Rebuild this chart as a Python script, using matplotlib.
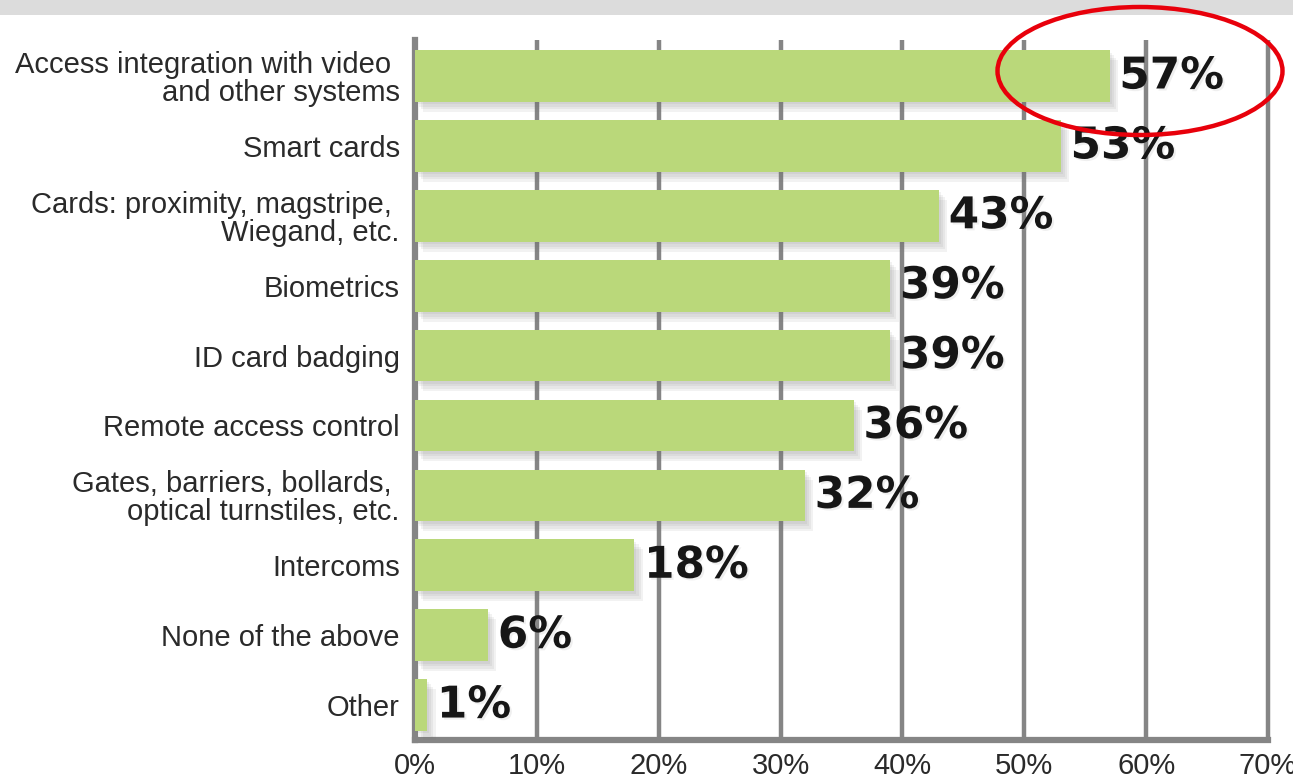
import matplotlib
matplotlib.use("Agg")
import matplotlib.pyplot as plt
from matplotlib.patches import Ellipse, Rectangle
import matplotlib.patheffects as pe

categories = [
    "Access integration with video \nand other systems",
    "Smart cards",
    "Cards: proximity, magstripe, \nWiegand, etc.",
    "Biometrics",
    "ID card badging",
    "Remote access control",
    "Gates, barriers, bollards, \noptical turnstiles, etc.",
    "Intercoms",
    "None of the above",
    "Other",
]
values = [57, 53, 43, 39, 39, 36, 32, 18, 6, 1]
value_labels = ["57%", "53%", "43%", "39%", "39%", "36%", "32%", "18%", "6%", "1%"]
x_ticks = [0, 10, 20, 30, 40, 50, 60, 70]
x_tick_labels = ["0%", "10%", "20%", "30%", "40%", "50%", "60%", "70%"]

plt.rcParams["font.family"] = ["Liberation Sans", "DejaVu Sans"]

W, H = 1293, 782
fig = plt.figure(figsize=(W / 100, H / 100), dpi=100)
fig.patch.set_facecolor("white")

# top gray band
fig.patches.append(Rectangle((0, 1 - 15 / H), 1, 15 / H, transform=fig.transFigure,
                             facecolor="#dcdcdc", edgecolor="none", zorder=0))

ax = fig.add_axes([415 / W, 1 - 740 / H, (1268 - 415) / W, (740 - 40) / H])
ax.set_xlim(0, 70)
ypos = list(range(len(categories)))
ax.set_ylim(len(categories) - 0.5, -0.515)

grid_color = "#858585"
ax.vlines(x_ticks[1:], len(categories) - 0.5, -0.515, colors=grid_color,
          linewidth=3.2, zorder=1, clip_on=False)

bars = ax.barh(ypos, values, height=0.74, color="#bad87a", zorder=3)
shadow = [pe.SimplePatchShadow(offset=(o, -o * 1.2), shadow_rgbFace="#707070", alpha=0.09)
          for o in (1.5, 3, 4.5, 6)]
for b in bars:
    b.set_path_effects(shadow + [pe.Normal()])

for y, v, lab in zip(ypos, values, value_labels):
    ax.annotate(lab, xy=(v, y), xytext=(7, 0), textcoords="offset points",
                ha="left", va="center", fontsize=31.5, fontweight="bold",
                family="DejaVu Sans", color="#161616", zorder=5,
                path_effects=[pe.withSimplePatchShadow(offset=(1.5, -1.5), shadow_rgbFace="#999999", alpha=0.15)])

ax.set_yticks(ypos)
ax.set_yticklabels(categories, fontsize=21, color="#2a2a2a", linespacing=1.0)
ax.set_xticks(x_ticks)
ax.set_xticklabels(x_tick_labels, fontsize=21, color="#2a2a2a")
ax.tick_params(axis="both", length=0)
ax.tick_params(axis="y", pad=11)
ax.tick_params(axis="x", pad=9)

for s in ["top", "right"]:
    ax.spines[s].set_visible(False)
for s in ["left", "bottom"]:
    ax.spines[s].set_color(grid_color)
    ax.spines[s].set_linewidth(4.5)
    ax.spines[s].set_zorder(2)
ax.set_facecolor("none")

# red highlight ellipse
ell = Ellipse((1140 / W, 1 - 71 / H), 285 / W, 128 / H, transform=fig.transFigure,
              fill=False, edgecolor="#e8000b", linewidth=3.2, zorder=10)
fig.patches.append(ell)

fig.savefig("out.png", dpi=100)
